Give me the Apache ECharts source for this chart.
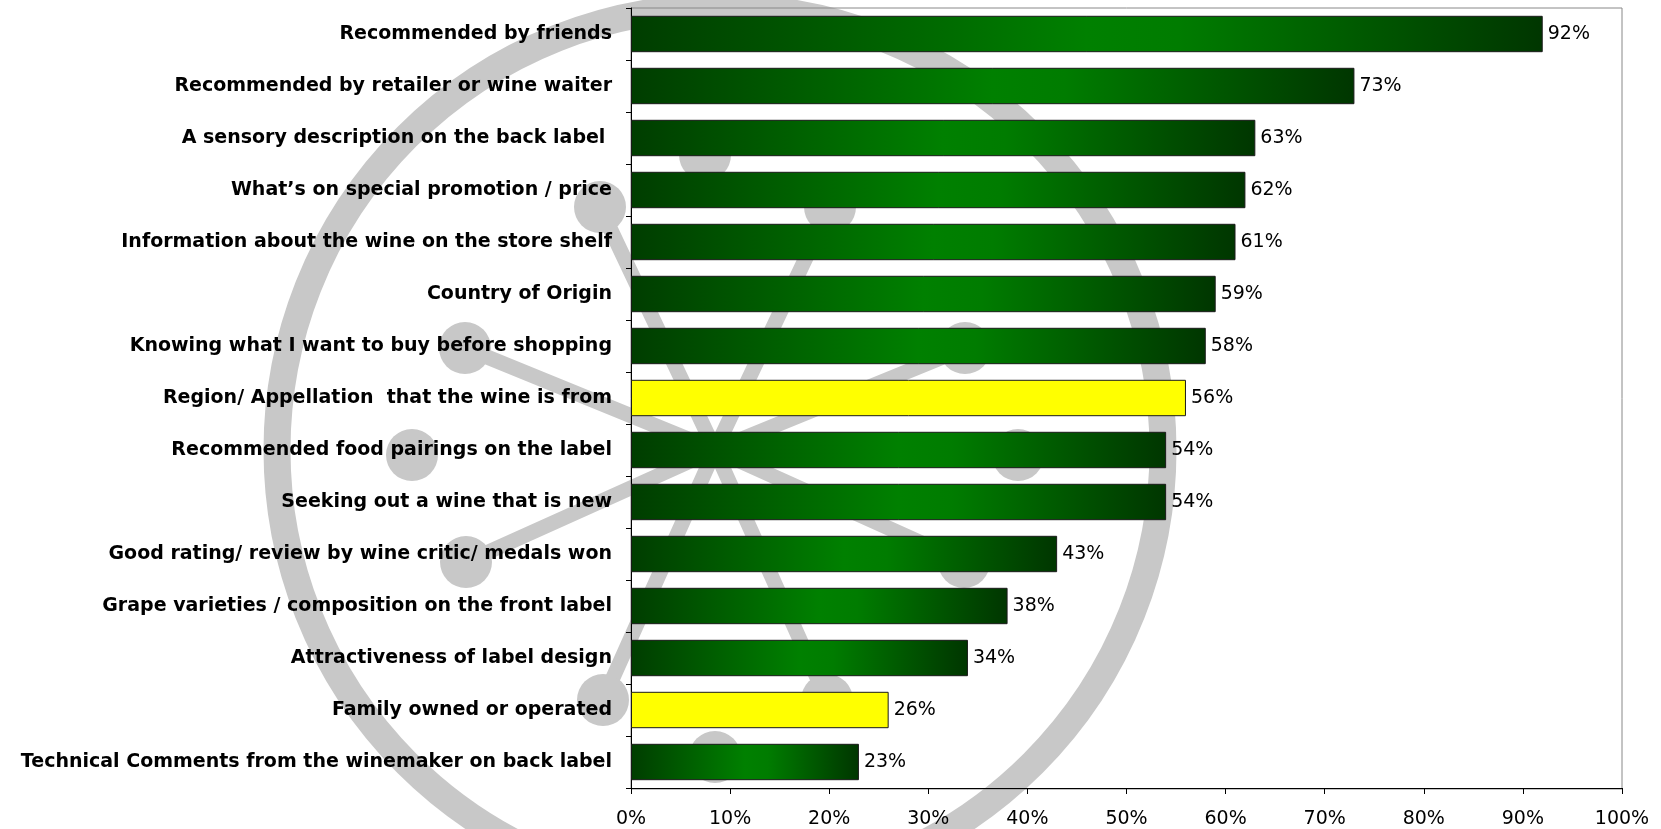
<!DOCTYPE html>
<html>
<head>
<meta charset="utf-8">
<script src="https://cdn.jsdelivr.net/npm/echarts@6/dist/echarts.min.js"></script>
<style>
html,body{margin:0;padding:0;background:#fff;}
#chart{width:1661px;height:829px;}
</style>
</head>
<body>
<div id="chart"></div>
<script>
const categories = [
  'Recommended by friends',
  'Recommended by retailer or wine waiter',
  'A sensory description on the back label ',
  'What\u2019s on special promotion / price',
  'Information about the wine on the store shelf',
  'Country of Origin',
  'Knowing what I want to buy before shopping',
  'Region/ Appellation  that the wine is from',
  'Recommended food pairings on the label',
  'Seeking out a wine that is new',
  'Good rating/ review by wine critic/ medals won',
  'Grape varieties / composition on the front label',
  'Attractiveness of label design',
  'Family owned or operated',
  'Technical Comments from the winemaker on back label'
];
const values = [92, 73, 63, 62, 61, 59, 58, 56, 54, 54, 43, 38, 34, 26, 23];
const highlighted = ['Region/ Appellation  that the wine is from', 'Family owned or operated'];
const xTicks = [0, 10, 20, 30, 40, 50, 60, 70, 80, 90, 100];

const chart = echarts.init(document.getElementById('chart'), null, {renderer: 'canvas'});

const FONT = 'DejaVu Sans, sans-serif';
const greenGrad = new echarts.graphic.LinearGradient(0, 0, 1, 0, [
  {offset: 0, color: '#003d00'},
  {offset: 0.5, color: '#008000'},
  {offset: 0.6, color: '#007c00'},
  {offset: 1, color: '#003600'}
]);

// decorative background watermark (logo-like ring with dots)
const WM = '#c8c8c8';
const hub = [715, 450];
const linkedDots = [[465,348],[466,562],[600,207],[603,700],[965,348],[964,562],[830,207],[827,700]];
const looseDots = [[412,455],[1018,455],[705,155],[715,757]];
const graphics = [];
graphics.push({type:'circle', shape:{cx:720, cy:450, r:443}, style:{fill:null, stroke:WM, lineWidth:27}, z:-10, silent:true});
linkedDots.forEach(d => {
  graphics.push({type:'line', shape:{x1:d[0], y1:d[1], x2:hub[0], y2:hub[1]}, style:{stroke:WM, lineWidth:15, lineCap:'round'}, z:-10, silent:true});
});
linkedDots.concat(looseDots).forEach(d => {
  graphics.push({type:'circle', shape:{cx:d[0], cy:d[1], r:26}, style:{fill:WM}, z:-10, silent:true});
});
graphics.push({type:'rect', shape:{x:631, y:8, width:991, height:781}, style:{fill:null, stroke:'#888888', lineWidth:1}, z:-5, silent:true});

chart.setOption({
  animation: false,
  backgroundColor: '#ffffff',
  graphic: graphics,
  grid: {left: 631, right: 39, top: 8, bottom: 40, containLabel: false},
  xAxis: {
    type: 'value', min: 0, max: 100, interval: 10,
    axisLine: {show: true, lineStyle: {color: '#000', width: 1}},
    axisTick: {show: true, length: 6, lineStyle: {color: '#000'}},
    splitLine: {show: false},
    axisLabel: {formatter: v => xTicks.includes(v) ? v + '%' : '', color: '#000', fontFamily: FONT, fontSize: 19, margin: 22}
  },
  yAxis: {
    type: 'category', data: categories, inverse: true,
    axisLine: {show: true, lineStyle: {color: '#000', width: 1}},
    axisTick: {show: true, length: 5, inside: false, lineStyle: {color: '#000'}},
    axisLabel: {color: '#000', fontWeight: 'bold', fontFamily: FONT, fontSize: 19, margin: 19}
  },
  series: [{
    type: 'bar',
    data: values.map((v, i) => ({
      value: v,
      itemStyle: {color: highlighted.includes(categories[i]) ? '#ffff00' : greenGrad, borderColor: '#1a1a1a', borderWidth: 1}
    })),
    barCategoryGap: '30%',
    label: {show: true, position: 'right', distance: 5, formatter: p => p.value + '%', color: '#000', fontFamily: FONT, fontSize: 19}
  }]
});
</script>
</body>
</html>
